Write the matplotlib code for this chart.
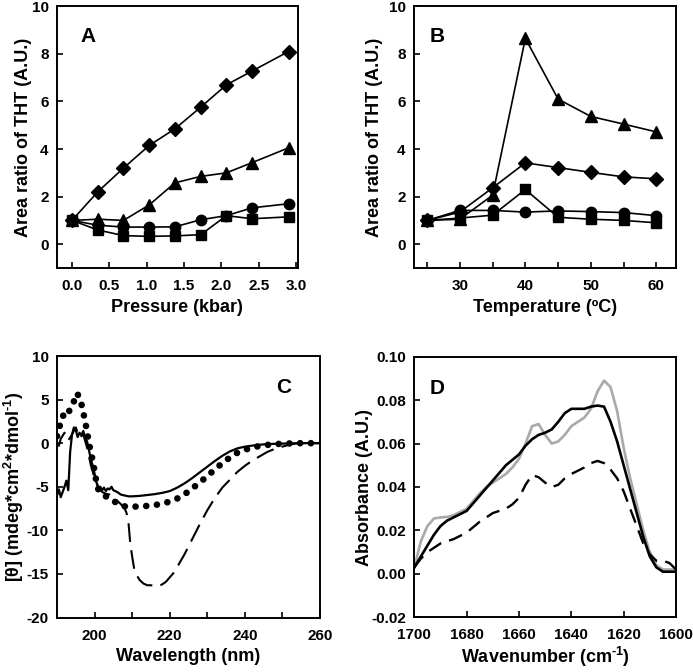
import matplotlib
matplotlib.use("Agg")
import matplotlib.pyplot as plt
import numpy as np

plt.rcParams['font.family'] = ['Liberation Sans', 'DejaVu Sans']
plt.rcParams['font.weight'] = 'bold'
plt.rcParams['axes.labelweight'] = 'bold'
plt.rcParams['axes.unicode_minus'] = False
plt.rcParams['mathtext.fontset'] = 'custom'
plt.rcParams['mathtext.rm'] = 'Liberation Sans:bold'
plt.rcParams['mathtext.bf'] = 'Liberation Sans:bold'
plt.rcParams['mathtext.default'] = 'bf'

# ---------------- Panel A data ----------------
pressure = [0.0, 0.345, 0.69, 1.034, 1.379, 1.724, 2.069, 2.413, 2.9]
a_diamond = [1.0, 2.2, 3.2, 4.15, 4.85, 5.76, 6.7, 7.28, 8.1]
a_triangle = [1.0, 1.05, 1.0, 1.65, 2.58, 2.85, 3.0, 3.43, 4.05]
a_circle = [1.0, 0.8, 0.72, 0.72, 0.73, 1.03, 1.2, 1.53, 1.7]
a_square = [1.0, 0.6, 0.36, 0.33, 0.35, 0.4, 1.2, 1.07, 1.15]

# ---------------- Panel B data ----------------
temperature = [25, 30, 35, 40, 45, 50, 55, 60]
b_triangle = [1.0, 1.05, 2.06, 8.65, 6.1, 5.37, 5.05, 4.72]
b_diamond = [1.0, 1.35, 2.37, 3.42, 3.22, 3.02, 2.83, 2.75]
b_circle = [1.0, 1.42, 1.42, 1.35, 1.4, 1.37, 1.33, 1.2]
b_square = [1.0, 1.1, 1.22, 2.3, 1.13, 1.05, 1.0, 0.9]

# ---------------- Panel C data ----------------
c_wl_solid = [190, 190.5, 191, 191.5, 192, 192.5, 193, 193.5, 194, 194.5, 195, 195.5,
              196, 196.5, 197, 197.5, 198, 198.5, 199, 199.5, 200, 200.5, 201, 201.5,
              202, 202.5, 203, 203.5, 204, 204.5, 205, 206, 207, 208, 209, 210, 212,
              214, 216, 218, 220, 222, 224, 226, 228, 230, 232, 234, 236, 238, 240,
              243, 246, 250, 255, 260]
c_solid = [-6.0, -5.3, -6.2, -5.6, -5.0, -4.3, -5.4, -1.0, 1.0, 1.8, 1.5, 0.7,
           1.2, 0.9, 1.4, 0.6, 0.2, -0.8, -1.8, -2.6, -3.5, -4.5, -5.2, -5.0,
           -5.4, -5.1, -5.5, -5.2, -5.3, -5.0, -5.4, -5.6, -5.9, -6.0, -6.1, -6.1, -6.05,
           -5.95, -5.85, -5.7, -5.5, -5.1, -4.6, -4.0, -3.35, -2.7, -2.05, -1.45, -0.95, -0.6, -0.4,
           -0.22, -0.1, -0.05, 0.0, 0.0]

c_wl_dot = [190, 190.5, 191, 191.5, 192, 192.5, 193, 193.5, 194, 194.5, 195, 195.5,
            196, 196.5, 197, 197.5, 198, 198.5, 199, 199.5, 200, 200.5, 201, 202,
            203, 204, 205, 206, 207, 208, 210, 212, 214, 216, 218, 220, 222, 224,
            226, 228, 230, 232, 234, 236, 238, 240, 243, 246, 250, 255, 260]
c_dot = [0.8, 1.5, 2.5, 3.0, 3.5, 3.3, 3.4, 4.0, 4.3, 4.8, 5.7, 5.6,
         5.2, 4.5, 3.5, 2.5, 1.3, 0.0, -1.0, -2.0, -3.2, -4.5, -5.3, -5.8,
         -6.1, -6.3, -6.6, -6.9, -7.1, -7.25, -7.3, -7.25, -7.2, -7.1, -6.95, -6.7, -6.35, -5.85,
         -5.2, -4.5, -3.8, -3.0, -2.3, -1.65, -1.1, -0.75, -0.4, -0.2, -0.05, 0.0, 0.0]

c_wl_dash = [190, 190.5, 191, 192, 193, 194, 195, 196, 197, 198, 199, 200, 201, 202,
             203, 204, 205, 206, 207, 208, 208.5, 209, 209.5, 210, 210.5, 211, 212, 213,
             214, 215, 216, 217, 218, 219, 220, 221, 222, 224, 226, 228, 230, 232, 234,
             236, 238, 240, 242, 244, 246, 248, 250, 252, 254, 257, 260]
c_dash = [0.0, -0.3, 0.5, 1.2, 0.3, 1.0, 1.8, 0.6, 1.0, -0.5, -2.5, -4.0, -5.0, -5.6,
          -5.8, -5.9, -6.2, -6.6, -7.0, -7.5, -8.0, -9.0, -11.5, -13.0, -14.3, -15.0, -15.7, -16.1,
          -16.3, -16.3, -16.4, -16.4, -16.2, -15.9, -15.4, -14.9, -14.2, -12.7, -11.0, -9.3, -7.7, -6.3, -5.1,
          -4.2, -3.3, -2.6, -2.0, -1.5, -1.0, -0.65, -0.4, -0.15, 0.0, 0.0, 0.0]

# ---------------- Panel D data ----------------
d_wn = [1700, 1697.5, 1695, 1692.5, 1690, 1687.5, 1685, 1682.5, 1680, 1677.5, 1675,
        1672.5, 1670, 1667.5, 1665, 1662.5, 1660, 1657.5, 1655, 1652.5, 1650, 1647.5,
        1645, 1642.5, 1640, 1637.5, 1635, 1632.5, 1630, 1627.5, 1625, 1622.5, 1620,
        1617.5, 1615, 1612.5, 1610, 1607.5, 1605, 1602.5, 1600]
d_black = [0.003, 0.008, 0.013, 0.018, 0.022, 0.0245, 0.026, 0.0275, 0.029, 0.0325, 0.036,
           0.0395, 0.043, 0.0465, 0.050, 0.0525, 0.055, 0.0590, 0.062, 0.0640, 0.065, 0.0665,
           0.070, 0.0740, 0.076, 0.0760, 0.076, 0.0770, 0.0775, 0.0770, 0.070, 0.0610, 0.050,
           0.0390, 0.028, 0.0170, 0.008, 0.0030, 0.001, 0.0010, 0.001]
d_gray = [0.003, 0.015, 0.022, 0.0255, 0.026, 0.0262, 0.027, 0.0285, 0.030, 0.0335, 0.037,
          0.040, 0.042, 0.044, 0.046, 0.049, 0.053, 0.060, 0.068, 0.069, 0.064, 0.060,
          0.061, 0.064, 0.068, 0.070, 0.072, 0.076, 0.084, 0.089, 0.086, 0.075, 0.058,
          0.044, 0.032, 0.020, 0.010, 0.004, 0.002, 0.002, 0.002]
d_dash = [0.003, 0.007, 0.010, 0.012, 0.014, 0.015, 0.016, 0.0175, 0.019, 0.0215, 0.024,
          0.026, 0.028, 0.029, 0.030, 0.032, 0.035, 0.041, 0.0455, 0.0445, 0.042, 0.040,
          0.041, 0.044, 0.046, 0.0475, 0.049, 0.051, 0.052, 0.051, 0.048, 0.044, 0.038,
          0.030, 0.022, 0.014, 0.009, 0.006, 0.006, 0.005, 0.002]

W, H = 693, 672
fig = plt.figure(figsize=(W / 100, H / 100), dpi=100)


def box(l, r, t, b):
    return [l / W, 1 - b / H, (r - l) / W, (b - t) / H]


axA = fig.add_axes(box(57, 297.5, 6.3, 268))
axB = fig.add_axes(box(414, 676, 6.3, 268))
axC = fig.add_axes(box(57, 320, 356, 617.5))
axD = fig.add_axes(box(414.3, 676, 356.7, 617.3))

TICK = 11
LAB = 13
LET = 15

for ax in (axA, axB, axC, axD):
    for s in ax.spines.values():
        s.set_linewidth(1.4)
    ax.tick_params(direction='in', length=4, width=1.2, labelsize=TICK, pad=6)
    ax.tick_params(axis='x', pad=8)

lw = 1.2
# Panel A
axA.plot(pressure, a_diamond, '-D', color='k', ms=7, lw=lw)
axA.plot(pressure, a_triangle, '-^', color='k', ms=8.5, lw=lw)
axA.plot(pressure, a_circle, '-o', color='k', ms=7.5, lw=lw)
axA.plot(pressure, a_square, '-s', color='k', ms=7, lw=lw)
axA.set_xlim(-0.2, 3.02)
axA.set_ylim(-1, 10)
axA.set_xticks([0, 0.5, 1.0, 1.5, 2.0, 2.5, 3.0])
axA.set_xticklabels(['0.0', '0.5', '1.0', '1.5', '2.0', '2.5', '3.0'])
axA.set_yticks([0, 2, 4, 6, 8, 10])
axA.set_xlabel('Pressure (kbar)', fontsize=LAB)
axA.set_ylabel('Area ratio of THT (A.U.)', fontsize=LAB)
axA.xaxis.set_label_coords(0.5, -0.120)
axA.yaxis.set_label_coords(-0.104, 0.5)
axA.text(0.096, 0.864, 'A', transform=axA.transAxes, fontsize=LET, fontweight='bold')

# Panel B
axB.plot(temperature, b_triangle, '-^', color='k', ms=8.5, lw=lw)
axB.plot(temperature, b_diamond, '-D', color='k', ms=7, lw=lw)
axB.plot(temperature, b_circle, '-o', color='k', ms=7.5, lw=lw)
axB.plot(temperature, b_square, '-s', color='k', ms=7, lw=lw)
axB.set_xlim(23, 63)
axB.set_ylim(-1, 10)
axB.set_xticks([25, 30, 35, 40, 45, 50, 55, 60])
axB.set_xticklabels(['', '30', '', '40', '', '50', '', '60'])
axB.set_yticks([0, 2, 4, 6, 8, 10])
axB.set_xlabel('Temperature (ºC)', fontsize=LAB)
axB.set_ylabel('Area ratio of THT (A.U.)', fontsize=LAB)
axB.xaxis.set_label_coords(0.5, -0.120)
axB.yaxis.set_label_coords(-0.118, 0.5)
axB.text(0.061, 0.864, 'B', transform=axB.transAxes, fontsize=LET, fontweight='bold')

# Panel C
axC.plot(c_wl_solid, c_solid, '-', color='k', lw=1.6)
axC.plot(c_wl_dot, c_dot, color='k', lw=4.8, linestyle=(0, (0.01, 1.6)),
         dash_capstyle='round')
axC.plot(c_wl_dash, c_dash, color='k', lw=1.5, linestyle=(0, (9, 4)))
axC.set_xlim(190, 260)
axC.set_ylim(-20, 10)
axC.set_xticks([200, 210, 220, 230, 240, 250, 260])
axC.set_xticklabels(['200', '', '220', '', '240', '', '260'])
axC.set_yticks([-20, -15, -10, -5, 0, 5, 10])
axC.set_xlabel('Wavelength (nm)', fontsize=LAB)
axC.set_ylabel(r'[θ] (mdeg*cm$^{\text{2}}$*dmol$^{\text{-1}}$)', fontsize=LAB)
axC.xaxis.set_label_coords(0.5, -0.118)
axC.yaxis.set_label_coords(-0.119, 0.5)
axC.text(0.833, 0.858, 'C', transform=axC.transAxes, fontsize=LET, fontweight='bold')

# Panel D
axD.plot(d_wn, d_gray, '-', color='#a9a9a9', lw=1.9)
axD.plot(d_wn, d_black, '-', color='k', lw=1.9)
axD.plot(d_wn, d_dash, color='k', lw=1.7, linestyle=(0, (6, 3.5)))
axD.set_xlim(1700, 1600)
axD.set_ylim(-0.02, 0.10)
axD.set_xticks([1700, 1680, 1660, 1640, 1620, 1600])
axD.set_yticks([-0.02, 0.0, 0.02, 0.04, 0.06, 0.08, 0.10])
axD.set_yticklabels(['-0.02', '0.00', '0.02', '0.04', '0.06', '0.08', '0.10'])
axD.set_xlabel(r'Wavenumber (cm$^{\text{-1}}$)', fontsize=LAB)
axD.set_ylabel('Absorbance (A.U.)', fontsize=LAB)
axD.xaxis.set_label_coords(0.5, -0.105)
axD.yaxis.set_label_coords(-0.158, 0.5)
axD.text(0.057, 0.857, 'D', transform=axD.transAxes, fontsize=LET, fontweight='bold')

fig.savefig('out.png', dpi=100)
